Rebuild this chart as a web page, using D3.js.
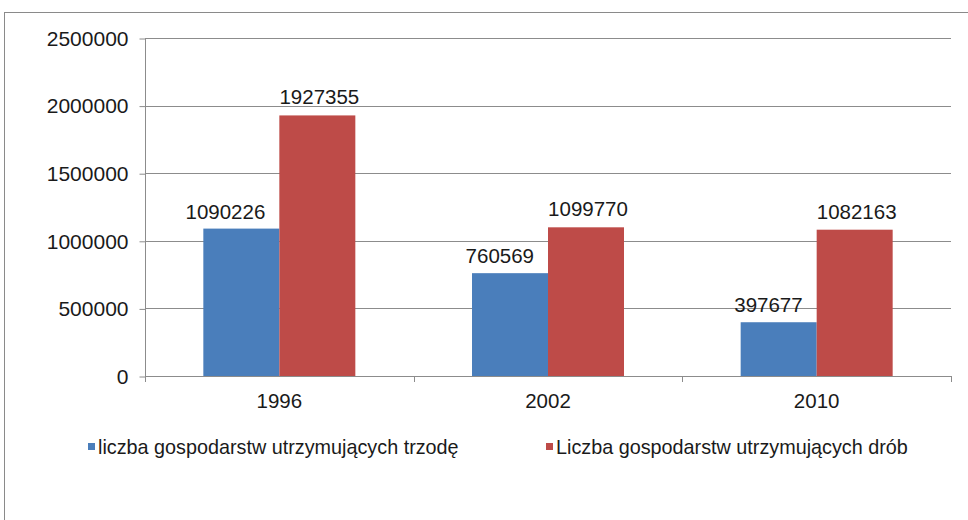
<!DOCTYPE html>
<meta charset="utf-8">
<style>
  body { margin: 0; padding: 0; background: white; }
  svg { display: block; background: white; }
  text { font-family: "Liberation Sans", Arial, sans-serif; fill: #1a1a1a; }
</style>
<script src="https://d3js.org/d3.v7.min.js"></script>
<svg id="vis"></svg>
<script>

var width = 968, height = 520;

// data
var years = ["1996", "2002", "2010"];
var trzoda = [1090226, 760569, 397677];
var drob = [1927355, 1099770, 1082163];
var seriesNames = ["liczba gospodarstw utrzymujących trzodę", "Liczba gospodarstw utrzymujących drób"];
var seriesColors = ["#4A7EBB", "#BE4B48"];
var yTicks = [0, 500000, 1000000, 1500000, 2000000, 2500000];

var svg = d3.select("#vis").attr("width", width).attr("height", height);

// outer frame (right / bottom edges fall outside the picture)
svg.append("rect")
  .attr("x", 4.5).attr("y", 12.5)
  .attr("width", 1000).attr("height", 600)
  .attr("fill", "none").attr("stroke", "#8a8a8a").attr("stroke-width", 1);

var plot = {left: 145, right: 951, top: 38, bottom: 376};

var x = d3.scaleBand().domain(years).range([plot.left, plot.right]);
var y = d3.scaleLinear().domain([0, 2500000]).range([plot.bottom, plot.top]);
var barW = 76;

// gridlines
svg.append("g")
  .selectAll("line")
  .data(yTicks.slice(1))
  .enter().append("line")
    .attr("x1", plot.left).attr("x2", plot.right)
    .attr("y1", d => Math.round(y(d)) + 0.5).attr("y2", d => Math.round(y(d)) + 0.5)
    .attr("stroke", "#8c8c8c").attr("stroke-width", 1);

// y axis
var yAxis = svg.append("g")
  .attr("transform", "translate(" + (plot.left + 0.5) + ",0.5)")
  .call(d3.axisLeft(y).tickValues(yTicks).tickSize(6).tickPadding(11).tickFormat(d3.format("d")));
yAxis.select(".domain").attr("stroke", "#8c8c8c").attr("d", "M0," + plot.top + "V" + plot.bottom);
yAxis.selectAll(".tick line").attr("stroke", "#8c8c8c");
yAxis.selectAll(".tick text").attr("font-size", 21).attr("font-family", null).attr("fill", "#1a1a1a");

// bars
var groups = svg.append("g")
  .selectAll("g")
  .data(years)
  .enter().append("g");

groups.append("rect")
  .attr("x", d => x(d) + x.bandwidth() / 2 - barW)
  .attr("y", (d, i) => y(trzoda[i]))
  .attr("width", barW)
  .attr("height", (d, i) => y(0) - y(trzoda[i]))
  .attr("fill", seriesColors[0]);

groups.append("rect")
  .attr("x", d => x(d) + x.bandwidth() / 2)
  .attr("y", (d, i) => y(drob[i]))
  .attr("width", barW)
  .attr("height", (d, i) => y(0) - y(drob[i]))
  .attr("fill", seriesColors[1]);

// blue labels are pushed left, clear of the neighbouring red bar
groups.append("text")
  .attr("x", d => x(d) + x.bandwidth() / 2 - 14)
  .attr("y", (d, i) => y(trzoda[i]) - 10)
  .attr("text-anchor", "end").attr("font-size", 20.5)
  .text((d, i) => trzoda[i]);

groups.append("text")
  .attr("x", d => x(d) + x.bandwidth() / 2 + barW / 2 + 2)
  .attr("y", (d, i) => y(drob[i]) - 11)
  .attr("text-anchor", "middle").attr("font-size", 20.5)
  .text((d, i) => drob[i]);

// x axis
var xAxis = svg.append("g")
  .attr("transform", "translate(0," + (plot.bottom + 0.5) + ")")
  .call(d3.axisBottom(x).tickSize(0).tickPadding(0));
xAxis.select(".domain").attr("stroke", "#8c8c8c").attr("d", "M" + plot.left + ",0H" + plot.right);
xAxis.selectAll(".tick text").attr("font-size", 20.5).attr("font-family", null)
  .attr("fill", "#1a1a1a").attr("dy", null).attr("y", 31);

// category boundary tick marks
svg.append("g")
  .selectAll("line")
  .data(years.concat(["end"]))
  .enter().append("line")
    .attr("x1", (d, i) => Math.round(i < years.length ? x(d) : plot.right) + 0.5)
    .attr("x2", (d, i) => Math.round(i < years.length ? x(d) : plot.right) + 0.5)
    .attr("y1", plot.bottom).attr("y2", plot.bottom + 6)
    .attr("stroke", "#8c8c8c");

// legend
var legendX = [88, 546];
var legend = svg.append("g")
  .selectAll("g")
  .data(seriesNames)
  .enter().append("g")
    .attr("transform", (d, i) => "translate(" + legendX[i] + ",443)");

legend.append("rect")
  .attr("width", 7).attr("height", 7)
  .attr("fill", (d, i) => seriesColors[i]);

legend.append("text")
  .attr("x", 10).attr("y", 11)
  .attr("font-size", 19.8)
  .text(d => d);

</script>
